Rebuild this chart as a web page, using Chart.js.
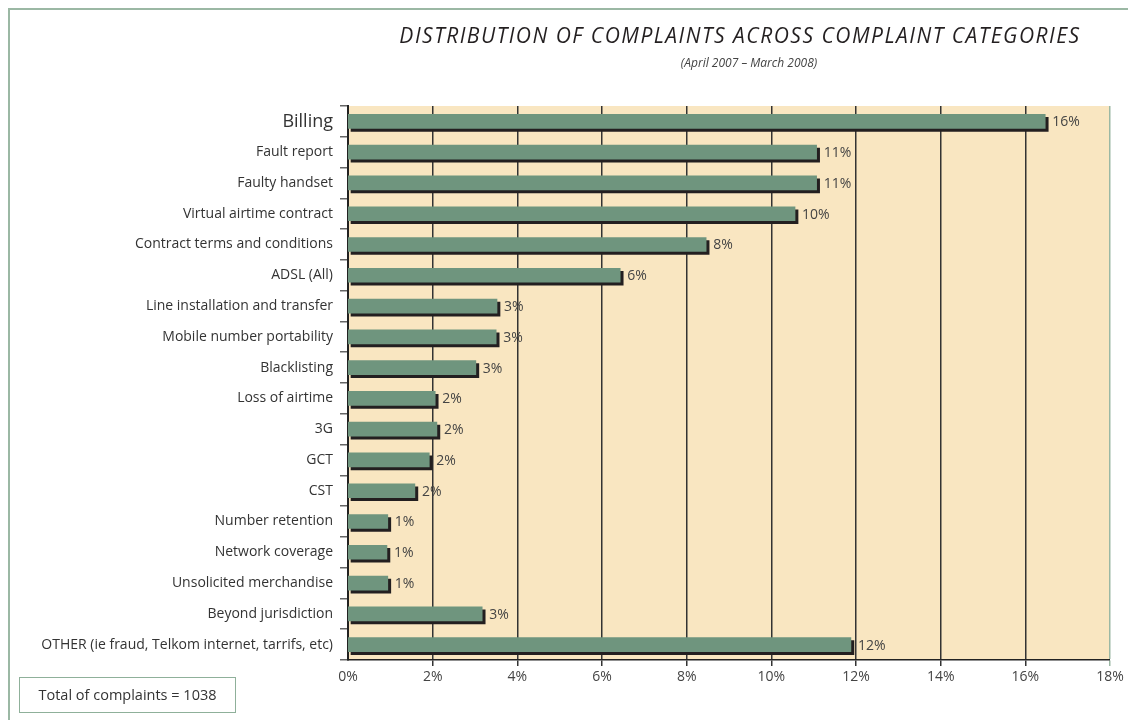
<!DOCTYPE html>
<html>
<head>
<meta charset="utf-8">
<script src="https://cdn.jsdelivr.net/npm/chart.js@4/dist/chart.umd.min.js"></script>
<style>
  html, body { margin: 0; padding: 0; background: #fff; }
  body { width: 1128px; height: 720px; position: relative; overflow: hidden; font-family: "Open Sans", Lato, sans-serif; }
  #frame { position: absolute; left: 8px; top: 8px; width: 1300px; height: 900px; border-left: 2px solid #9bb8a4; border-top: 2px solid #9bb8a4; }
  #chart { position: absolute; left: 0; top: 0; }
  .title { position: absolute; top: 21px; left: 740px; transform: translateX(-50%); white-space: nowrap; font-style: italic; font-size: 21px; letter-spacing: 1.5px; color: #231f20; }
  .sub { position: absolute; top: 54px; left: 749px; transform: translateX(-50%); white-space: nowrap; font-style: italic; font-size: 12px; color: #444; }
  #total { position: absolute; left: 19px; top: 677px; width: 215px; height: 34px; border: 1.5px solid #8fb09a; font-size: 14.5px; color: #333; line-height: 34px; text-align: center; }
</style>
</head>
<body>
<div id="frame"></div>
<canvas id="chart" width="1128" height="720"></canvas>
<div class="title">DISTRIBUTION OF COMPLAINTS ACROSS COMPLAINT CATEGORIES</div>
<div class="sub">(April 2007 – March 2008)</div>
<div id="total">Total of complaints = 1038</div>
<script>
const categories = [
  "Billing",
  "Fault report",
  "Faulty handset",
  "Virtual airtime contract",
  "Contract terms and conditions",
  "ADSL (All)",
  "Line installation and transfer",
  "Mobile number portability",
  "Blacklisting",
  "Loss of airtime",
  "3G",
  "GCT",
  "CST",
  "Number retention",
  "Network coverage",
  "Unsolicited merchandise",
  "Beyond jurisdiction",
  "OTHER (ie fraud, Telkom internet, tarrifs, etc)"
];
const shares = [16.47, 11.07, 11.07, 10.56, 8.46, 6.43, 3.52, 3.5, 3.02, 2.06, 2.1, 1.92, 1.58, 0.94, 0.92, 0.94, 3.17, 11.88];
const shareLabels = ["16%", "11%", "11%", "10%", "8%", "6%", "3%", "3%", "3%", "2%", "2%", "2%", "2%", "1%", "1%", "1%", "3%", "12%"];
const xTicks = [0, 2, 4, 6, 8, 10, 12, 14, 16, 18];

const FONT = "'Open Sans', Lato, sans-serif";

// wheat background behind the plot
const plotBg = {
  id: "plotBg",
  beforeDraw(chart) {
    const { ctx, chartArea: a } = chart;
    ctx.save();
    ctx.fillStyle = "#f9e6c1";
    ctx.fillRect(a.left, a.top, a.right - a.left, a.bottom - a.top);
    ctx.restore();
  }
};

// dark drop shadow under the bars, then the % labels
const barExtras = {
  id: "barExtras",
  beforeDatasetsDraw(chart) {
    const ctx = chart.ctx;
    ctx.save();
    ctx.shadowColor = "#231f20";
    ctx.shadowOffsetX = 3;
    ctx.shadowOffsetY = 3;
    ctx.shadowBlur = 0;
  },
  afterDatasetsDraw(chart) {
    const ctx = chart.ctx;
    ctx.restore();
    ctx.save();
    ctx.font = "14px " + FONT;
    ctx.fillStyle = "#444";
    ctx.textBaseline = "middle";
    chart.getDatasetMeta(0).data.forEach((bar, i) => {
      ctx.fillText(shareLabels[i], bar.x + 7, bar.y + 1);
    });
    ctx.restore();
  }
};

new Chart(document.getElementById("chart").getContext("2d"), {
  type: "bar",
  data: {
    labels: categories,
    datasets: [{
      data: shares,
      backgroundColor: "#6f957e",
      borderWidth: 0,
      barThickness: 14
    }]
  },
  options: {
    indexAxis: "y",
    responsive: false,
    animation: false,
    layout: { padding: { top: 106, right: 18, bottom: 0, left: 0 } },
    plugins: {
      legend: { display: false },
      tooltip: { enabled: false }
    },
    scales: {
      x: {
        min: 0,
        max: 18,
        afterBuildTicks: (s) => { s.ticks = xTicks.map((v) => ({ value: v })); },
        afterFit: (s) => { s.height = 60; },
        ticks: {
          callback: (v) => v + "%",
          color: "#444",
          font: { family: FONT, size: 14 },
          padding: 3
        },
        grid: {
          color: (c) => (c.tick && c.tick.value === 18 ? "#9bb8a4" : "#333"),
          lineWidth: (c) => (c.tick && c.tick.value === 0 ? 0 : 1.5),
          tickLength: 6
        },
        border: { display: true, color: "#222", width: 1.5 }
      },
      y: {
        offset: true,
        afterFit: (s) => { s.width = 348; },
        ticks: {
          color: "#333",
          padding: 7,
          font: (c) => ({ family: FONT, size: c.index === 0 ? 18 : 14 })
        },
        grid: {
          offset: true,
          drawOnChartArea: false,
          color: "#666",
          lineWidth: 1.5,
          tickLength: 8
        },
        border: { display: true, color: "#222", width: 2 }
      }
    }
  },
  plugins: [plotBg, barExtras]
});
</script>
</body>
</html>
